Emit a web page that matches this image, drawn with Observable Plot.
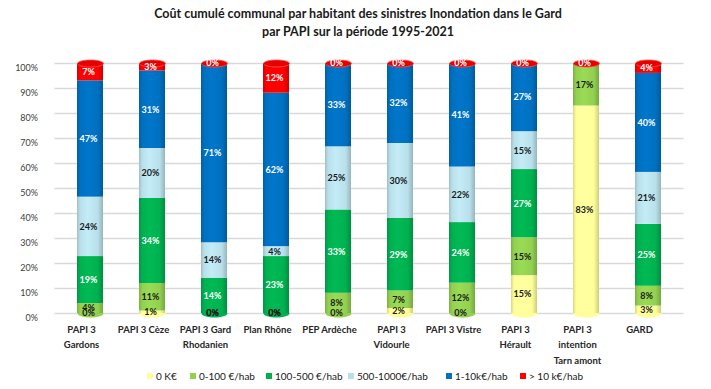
<!DOCTYPE html>
<html>
<head>
<meta charset="utf-8">
<script src="https://cdn.jsdelivr.net/npm/d3@7"></script>
<script src="https://cdn.jsdelivr.net/npm/@observablehq/plot@0.6"></script>
<style>
  html, body { margin: 0; padding: 0; background: #fff; }
  #chart { width: 711px; height: 389px; }
</style>
</head>
<body>
<div id="chart"></div>
<script>
const titleLines = ["Coût cumulé communal par habitant des sinistres Inondation dans le Gard", "par PAPI sur la période 1995-2021"];
const categories = ["PAPI 3\nGardons", "PAPI 3 Cèze", "PAPI 3 Gard\nRhodanien", "Plan Rhône", "PEP Ardèche", "PAPI 3\nVidourle", "PAPI 3 Vistre", "PAPI 3\nHérault", "PAPI 3\nintention\nTarn amont", "GARD"];
const series = ["0 K€", "0-100 €/hab", "100-500 €/hab", "500-1000€/hab", "1-10k€/hab", "> 10 k€/hab"];
const colors = ["#ffff99", "#92d050", "#00b050", "#b9e0ea", "#0070c0", "#ff0000"];
const v0K     = [0, 1, 0, 0, 0, 2, 0, 15, 83, 3];
const v0_100  = [4, 11, 0, 0, 8, 7, 12, 15, 17, 8];
const v100_500 = [19, 34, 14, 23, 33, 29, 24, 27, null, 25];
const v500_1k = [24, 20, 14, 4, 25, 30, 22, 15, null, 21];
const v1_10k  = [47, 31, 71, 62, 33, 32, 41, 27, null, 40];
const vGt10k  = [7, 3, 0, 12, 0, 0, 0, 0, 0, 4];
const yTicks = [0, 0.1, 0.2, 0.3, 0.4, 0.5, 0.6, 0.7, 0.8, 0.9, 1];

const seriesValues = [v0K, v0_100, v100_500, v500_1k, v1_10k, vGt10k];
const whiteLabel = new Set(["100-500 €/hab", "1-10k€/hab", "> 10 k€/hab"]);
const rows = [];
categories.forEach((c, i) => seriesValues.forEach((arr, j) => {
  rows.push({cat: c, series: series[j], value: arr[i] ?? 0, label: arr[i] == null ? "" : arr[i] + "%"});
}));
const bottomColor = categories.map((c, i) => {
  const j = seriesValues.findIndex(a => (a[i] ?? 0) > 0);
  return colors[j];
});

const ellipse = (rx, ry) => ({
  draw(ctx) {
    const k = 0.5523;
    ctx.moveTo(rx, 0);
    ctx.bezierCurveTo(rx, ry * k, rx * k, ry, 0, ry);
    ctx.bezierCurveTo(-rx * k, ry, -rx, ry * k, -rx, 0);
    ctx.bezierCurveTo(-rx, -ry * k, -rx * k, -ry, 0, -ry);
    ctx.bezierCurveTo(rx * k, -ry, rx, -ry * k, rx, 0);
    ctx.closePath();
  }
});

const stackOpts = (extra) => Plot.stackY({x: "cat", y: "value", z: "series", order: series, offset: "normalize", ...extra});

const plot = Plot.plot({
  width: 711,
  height: 389,
  marginLeft: 54.5,
  marginRight: 27.5,
  marginTop: 63,
  marginBottom: 76,
  style: {fontFamily: "Lato, 'Open Sans', sans-serif", background: "#fff"},
  x: {domain: categories, paddingInner: 0.585, paddingOuter: 0.2925, label: null},
  y: {domain: [0, 1], label: null},
  color: {domain: series, range: series.map((s, i) => `url(#cyl${i})`)},
  marks: [
    Plot.gridY(yTicks, {stroke: "#d9d9d9", strokeOpacity: 1, strokeWidth: 1.3}),
    Plot.axisY(yTicks, {tickSize: 0, tickPadding: 17, dy: 5, tickFormat: d3.format(".0%"), fontSize: 9, fill: "#404040", label: null}),
    Plot.axisX({tickSize: 0, tickPadding: 9, dx: -9, fontSize: 9.5, fontWeight: "bold", fill: "#262626", lineHeight: 1.6, label: null}),
    Plot.dot(categories, {x: d => d, y: () => 0, symbol: ellipse(13, 4), fill: (d, i) => bottomColor[i], stroke: null}),
    Plot.barY(rows, stackOpts({fill: "series", inset: 0})),
    Plot.dot(categories, {x: d => d, y: () => 1, symbol: ellipse(13, 3.5), fill: "#e60000", stroke: "#ff5050", strokeWidth: 0.8}),
    Plot.text(rows, stackOpts({text: d => whiteLabel.has(d.series) ? "" : d.label, fill: "#1a1a1a", fontSize: 9, fontWeight: "bold", dx: -2})),
    Plot.text(rows, stackOpts({text: d => whiteLabel.has(d.series) ? d.label : "", fill: "#ffffff", fontSize: 9, fontWeight: "bold", dx: -2}))
  ]
});

document.getElementById("chart").appendChild(plot);

const svg = d3.select(plot);
const defs = svg.insert("defs", ":first-child");
colors.forEach((c, i) => {
  const g = defs.append("linearGradient").attr("id", `cyl${i}`).attr("x1", "0%").attr("x2", "100%").attr("y1", "0%").attr("y2", "0%");
  const base = d3.color(c);
  g.append("stop").attr("offset", "0%").attr("stop-color", base.darker(0.45).formatHex());
  g.append("stop").attr("offset", "12%").attr("stop-color", base.formatHex());
  g.append("stop").attr("offset", "40%").attr("stop-color", d3.color(c).brighter(0.15).formatHex());
  g.append("stop").attr("offset", "80%").attr("stop-color", base.formatHex());
  g.append("stop").attr("offset", "100%").attr("stop-color", base.darker(0.6).formatHex());
});

// Title
const title = svg.append("g").attr("font-family", "Lato, 'Open Sans', sans-serif").attr("font-weight", "bold").attr("font-size", 12.5).attr("fill", "#1a1a1a").attr("text-anchor", "middle");
titleLines.forEach((t, i) => title.append("text").attr("x", 358).attr("y", 18 + i * 18).text(t));

// Legend
const legendX = [147, 190, 266, 348, 446, 520];
const lg = svg.append("g").attr("font-family", "Lato, 'Open Sans', sans-serif").attr("font-size", 10).attr("fill", "#1a1a1a").attr("text-anchor", "start");
series.forEach((s, i) => {
  lg.append("rect").attr("x", legendX[i]).attr("y", 373).attr("width", 6).attr("height", 6).attr("fill", colors[i]);
  lg.append("text").attr("x", legendX[i] + 9).attr("y", 380).text(s);
});
</script>
</body>
</html>
